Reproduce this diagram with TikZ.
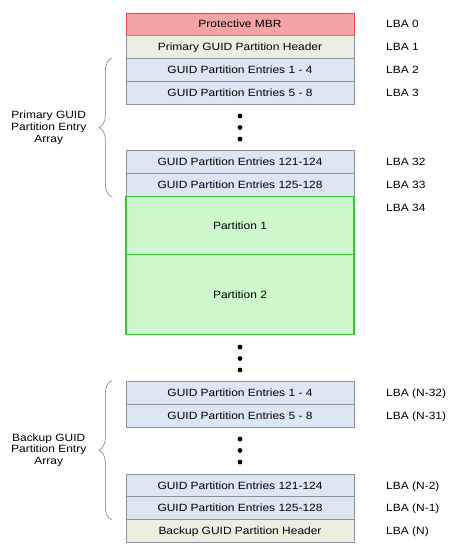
\documentclass[tikz,border=0pt]{standalone}
\usepackage{fontspec}
\setmainfont{Liberation Sans}[FakeStretch=1.14]
\usetikzlibrary{positioning,decorations.pathreplacing}

\definecolor{mbrfill}{HTML}{F5A4A6}
\definecolor{mbrline}{HTML}{E04A4A}
\definecolor{hdrfill}{HTML}{EDEEE2}
\definecolor{entfill}{HTML}{DDE6F3}
\definecolor{boxline}{HTML}{8A929C}
\definecolor{partfill}{HTML}{CCFACC}
\definecolor{partline}{HTML}{33CC33}
\definecolor{braceline}{HTML}{7A7A7A}

\begin{document}
\begin{tikzpicture}[
    x=1pt, y=-1pt,
    every node/.style={font=\fontsize{10.5}{11.8}\selectfont},
    block/.style={rectangle, draw=boxline, line width=0.8pt, minimum width=228pt,
        minimum height=23pt, inner sep=0pt, text height=7.5pt, text depth=0pt},
    mbr/.style={block, fill=mbrfill, draw=mbrline, minimum height=22pt},
    header/.style={block, fill=hdrfill},
    entry/.style={block, fill=entfill},
    part/.style={block, fill=partfill, draw=partline, line width=1.4pt},
    lba/.style={anchor=west, inner sep=0pt, text height=7.5pt, text depth=0pt},
    brace/.style={draw=braceline, line width=0.6pt, decorate,
        decoration={brace, amplitude=12.5pt}},
    bracelabel/.style={left=22pt, align=center, inner sep=3pt}
]
\useasboundingbox (0,0) rectangle (453,553);

% Primary header and entries
\node[mbr] (mbr) at (240,24) {Protective MBR};
\node[header] (phdr) at (240,46.5) {Primary GUID Partition Header};
\node[entry] (pe1) at (240,70) {GUID Partition Entries 1 - 4};
\node[entry] (pe2) at (240,93) {GUID Partition Entries 5 - 8};
\node[entry] (pe31) at (240,161.5) {GUID Partition Entries 121-124};
\node[entry] (pe32) at (240,185) {GUID Partition Entries 125-128};

% Partitions
\node[part, minimum height=58pt] (part1) at (240,225.5) {Partition 1};
\node[part, minimum height=80pt] (part2) at (240,294.5) {Partition 2};

% Backup entries and header
\node[entry] (be1) at (240,392.5) {GUID Partition Entries 1 - 4};
\node[entry] (be2) at (240,415.5) {GUID Partition Entries 5 - 8};
\node[entry] (be31) at (240,485.5) {GUID Partition Entries 121-124};
\node[entry] (be32) at (240,508) {GUID Partition Entries 125-128};
\node[header] (bhdr) at (240,530.5) {Backup GUID Partition Header};

% LBA numbers
\node[lba] (lba0) at (386,23.5) {LBA 0};
\node[lba] (lba1) at (386,46.5) {LBA 1};
\node[lba] (lba2) at (386,70) {LBA 2};
\node[lba] (lba3) at (386,93) {LBA 3};
\node[lba] (lba32) at (386,161.5) {LBA 32};
\node[lba] (lba33) at (386,185) {LBA 33};
\node[lba] (lba34) at (386,208) {LBA 34};
\node[lba] (lban32) at (386,392.5) {LBA (N-32)};
\node[lba] (lban31) at (386,415.5) {LBA (N-31)};
\node[lba] (lban2) at (386,485.5) {LBA (N-2)};
\node[lba] (lban1) at (386,508) {LBA (N-1)};
\node[lba] (lban) at (386,530.5) {LBA (N)};

% Dots
\foreach \y in {116,127.5,139, 347,358.5,370, 439,450.5,462}
    \fill (240,\y) circle (2.4pt);

% Braces
\draw[brace] ([xshift=-14pt]pe32.south west) -- node[bracelabel] (plabel)
    {Primary GUID\\Partition Entry\\Array} ([xshift=-14pt]pe1.north west);
\draw[brace] ([xshift=-14pt]be32.south west) -- node[bracelabel] (blabel)
    {Backup GUID\\Partition Entry\\Array} ([xshift=-14pt]be1.north west);

\end{tikzpicture}
\end{document}
